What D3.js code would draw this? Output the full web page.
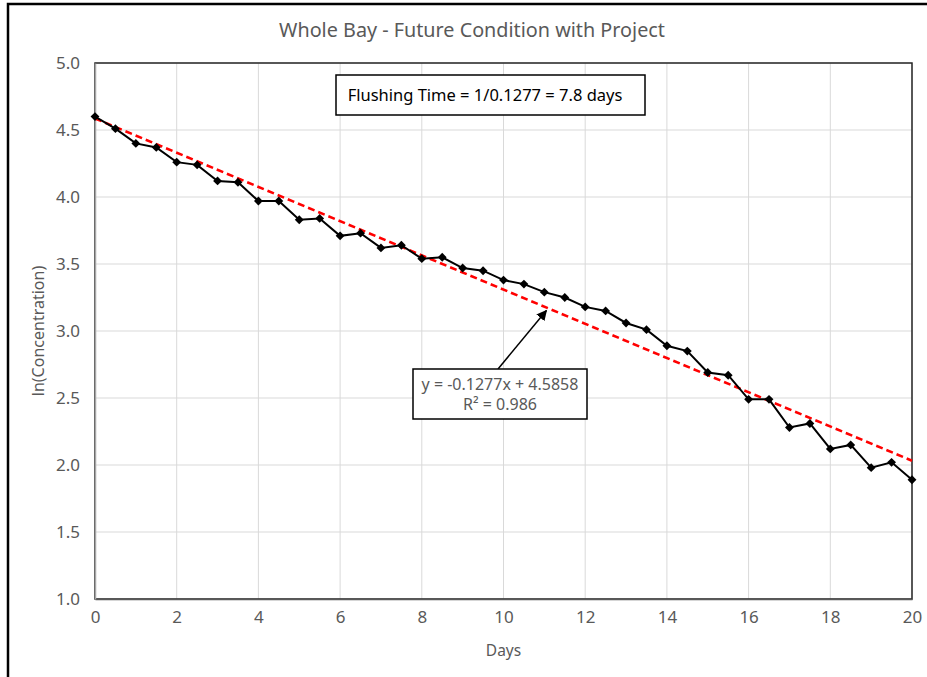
<!DOCTYPE html>
<html>
<head>
<meta charset="utf-8">
<script src="https://cdn.jsdelivr.net/npm/d3@7"></script>
<style>
  body { margin: 0; background: #fff; }
  svg { display: block; font-family: "Noto Sans", "Open Sans", sans-serif; }
</style>
</head>
<body>
<div id="chart"></div>
<script>
// Data
const days = [0, 0.5, 1, 1.5, 2, 2.5, 3, 3.5, 4, 4.5, 5, 5.5, 6, 6.5, 7, 7.5, 8, 8.5, 9, 9.5,
  10, 10.5, 11, 11.5, 12, 12.5, 13, 13.5, 14, 14.5, 15, 15.5, 16, 16.5, 17, 17.5, 18, 18.5, 19, 19.5, 20];
const lnConc = [4.60, 4.51, 4.40, 4.37, 4.26, 4.24, 4.12, 4.11, 3.97, 3.97, 3.83, 3.84, 3.71, 3.73,
  3.62, 3.64, 3.54, 3.55, 3.47, 3.45, 3.38, 3.35, 3.29, 3.25, 3.18, 3.15, 3.06, 3.01, 2.89, 2.85,
  2.69, 2.67, 2.49, 2.49, 2.28, 2.31, 2.12, 2.15, 1.98, 2.02, 1.89];
const xTicks = [0, 2, 4, 6, 8, 10, 12, 14, 16, 18, 20];
const yTicks = [1.0, 1.5, 2.0, 2.5, 3.0, 3.5, 4.0, 4.5, 5.0];
const slope = -0.1277;
const intercept = 4.5858;
const titleText = 'Whole Bay - Future Condition with Project';
const flushText = 'Flushing Time = 1/0.1277 = 7.8 days';
const eqLines = ['y = -0.1277x + 4.5858', 'R² = 0.986'];

// Config
const width = 927;
const height = 677;
const margin = {top: 63, right: 15, bottom: 78, left: 95};
const textGrey = '#595959';

const svg = d3.select('#chart').append('svg')
  .attr('width', width)
  .attr('height', height);

// outer frame (runs off the right and bottom edges)
svg.append('rect')
  .attr('x', 8)
  .attr('y', 4)
  .attr('width', width + 20)
  .attr('height', height + 20)
  .attr('fill', 'none')
  .attr('stroke', '#000')
  .attr('stroke-width', 2.5);

const x = d3.scaleLinear()
  .domain([0, 20])
  .range([margin.left, width - margin.right]);

const y = d3.scaleLinear()
  .domain([1, 5])
  .range([height - margin.bottom, margin.top]);

// Gridlines
svg.append('g')
  .selectAll('line')
  .data(xTicks)
  .join('line')
  .attr('x1', d => x(d))
  .attr('x2', d => x(d))
  .attr('y1', y(1))
  .attr('y2', y(5))
  .attr('stroke', '#d9d9d9')
  .attr('stroke-width', 1);

svg.append('g')
  .selectAll('line')
  .data(yTicks)
  .join('line')
  .attr('x1', x(0))
  .attr('x2', x(20))
  .attr('y1', d => y(d))
  .attr('y2', d => y(d))
  .attr('stroke', '#d9d9d9')
  .attr('stroke-width', 1);

// plot border
svg.append('rect')
  .attr('x', x(0))
  .attr('y', y(5))
  .attr('width', x(20) - x(0))
  .attr('height', y(1) - y(5))
  .attr('fill', 'none')
  .attr('stroke', '#262626')
  .attr('stroke-width', 1.5);

// Axes
const xAxis = svg.append('g')
  .attr('transform', `translate(0,${y(1)})`)
  .call(d3.axisBottom(x).tickValues(xTicks).tickSize(0).tickPadding(12).tickFormat(d3.format('d')));
xAxis.attr('font-size', 17).attr('font-family', null);
xAxis.select('.domain').attr('stroke', '#595959').attr('stroke-width', 1.5);
xAxis.selectAll('text').attr('fill', textGrey);

const yAxis = svg.append('g')
  .attr('transform', `translate(${x(0)},0)`)
  .call(d3.axisLeft(y).tickValues(yTicks).tickSize(0).tickPadding(15).tickFormat(d3.format('.1f')));
yAxis.attr('font-size', 17).attr('font-family', null);
yAxis.select('.domain').attr('stroke', '#a6a6a6').attr('stroke-width', 1.5);
yAxis.selectAll('text').attr('fill', textGrey);

// Trend line
svg.append('line')
  .attr('x1', x(0))
  .attr('y1', y(intercept))
  .attr('x2', x(20))
  .attr('y2', y(intercept + slope * 20))
  .attr('stroke', '#ff0000')
  .attr('stroke-width', 2.5)
  .attr('stroke-dasharray', '7,4');

// Data line
const line = d3.line()
  .x((d, i) => x(days[i]))
  .y(d => y(d));

svg.append('path')
  .datum(lnConc)
  .attr('d', line)
  .attr('fill', 'none')
  .attr('stroke', '#000')
  .attr('stroke-width', 2);

svg.append('g')
  .selectAll('path')
  .data(lnConc)
  .join('path')
  .attr('transform', (d, i) => `translate(${x(days[i])},${y(d)})`)
  .attr('d', d3.symbol(d3.symbolDiamond2, 50))
  .attr('fill', '#000');

// Title
svg.append('text')
  .attr('x', 472)
  .attr('y', 37)
  .attr('text-anchor', 'middle')
  .attr('font-size', 19.8)
  .attr('fill', textGrey)
  .text(titleText);

// Axis labels
svg.append('text')
  .attr('x', x(10))
  .attr('y', 656)
  .attr('text-anchor', 'middle')
  .attr('font-size', 15.5)
  .attr('fill', textGrey)
  .text('Days');

svg.append('text')
  .attr('transform', `translate(44,${y(3)}) rotate(-90)`)
  .attr('text-anchor', 'middle')
  .attr('font-size', 16)
  .attr('fill', textGrey)
  .text('ln(Concentration)');

// Flushing time box
svg.append('rect')
  .attr('x', 336)
  .attr('y', 75)
  .attr('width', 309)
  .attr('height', 40)
  .attr('fill', '#fff')
  .attr('stroke', '#000')
  .attr('stroke-width', 1.5);

svg.append('text')
  .attr('x', 485)
  .attr('y', 101)
  .attr('text-anchor', 'middle')
  .attr('font-size', 16.5)
  .attr('fill', '#000')
  .text(flushText);

// Arrow from equation box to trend line
svg.append('defs').append('marker')
  .attr('id', 'arrow')
  .attr('viewBox', '0 0 10 10')
  .attr('refX', 9)
  .attr('refY', 5)
  .attr('markerWidth', 7)
  .attr('markerHeight', 7)
  .attr('orient', 'auto')
  .append('path')
  .attr('d', 'M0,0 L10,5 L0,10 Z')
  .attr('fill', '#000');

svg.append('line')
  .attr('x1', 498)
  .attr('y1', 369)
  .attr('x2', x(11.05))
  .attr('y2', y(intercept + slope * 11.05) + 3)
  .attr('stroke', '#000')
  .attr('stroke-width', 1.5)
  .attr('marker-end', 'url(#arrow)');

// Equation box
svg.append('rect')
  .attr('x', 413)
  .attr('y', 369)
  .attr('width', 174)
  .attr('height', 50)
  .attr('fill', '#fff')
  .attr('stroke', '#000')
  .attr('stroke-width', 1.5);

svg.append('g')
  .selectAll('text')
  .data(eqLines)
  .join('text')
  .attr('x', 500)
  .attr('y', (d, i) => 390 + i * 20)
  .attr('text-anchor', 'middle')
  .attr('font-size', 16)
  .attr('fill', textGrey)
  .text(d => d);
</script>
</body>
</html>
